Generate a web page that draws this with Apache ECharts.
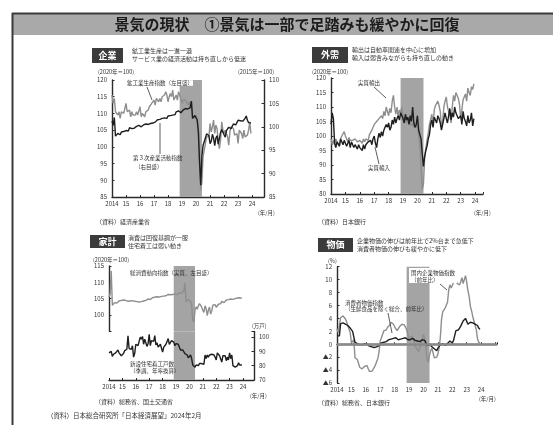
<!DOCTYPE html>
<html>
<head>
<meta charset="utf-8">
<script src="https://cdn.jsdelivr.net/npm/echarts/dist/echarts.min.js"></script>
<style>
  html, body { margin: 0; padding: 0; background: #fff; }
  #chart { width: 553px; height: 425px; filter: blur(0.35px); }
</style>
</head>
<body>
<div id="chart"></div>
<script>
// months Jan 2014 .. Dec 2023 on a year scale
const months = Array.from({length: 120}, (_, i) => 2014 + i / 12);
const recession = [2018.83, 2020.42];

// 企業: 鉱工業生産指数 (2020=100, left) / 第3次産業活動指数 (2015=100, right)
const iip = [
  115.5,113,114.5,110.5,110,109.5,110.5,108.5,110.5,111,110,111.5,
  113,110.5,110.5,111,109,110.5,109.5,109,109.5,110.5,109.5,109.5,
  112,109,110,109.5,109,110.5,110.5,111,112,111.5,113,112.5,
  114,112.5,114.5,115,113.5,114.5,113.5,115,114.5,115.5,116.5,115.5,
  113.5,115,116,115,117,114,114.5,115.5,114,116.5,115.5,115,
  113,114,113.5,114,114.5,112.5,113.5,112,113.5,109,108.5,108.5,
  109.5,109,105,96,87,89.5,97,99,101,103,103.5,103,
  107,104.5,106,108,104,106.5,105.5,101.5,99.5,102,107.5,105,
  104,105,105.5,103,100.5,104.5,106,106.5,105.5,103.5,104,104,
  101,105,104.5,104,102.5,105,103,103.5,103.5,105,107.5,104
];
const tertiary = [
  101.2,100.3,102,98,98.4,98.6,98.5,98.3,98.9,98.7,99,99.3,
  99.2,99.4,99.1,99.8,99.5,99.6,99.9,99.7,99.8,100.1,99.8,100.3,
  100.5,100,100.2,100.4,100.1,100.6,100.4,100.5,100.9,100.7,100.9,100.8,
  101.1,101,101.3,101.5,101.2,101.6,101.4,101.8,101.5,101.9,102.2,101.8,
  102.3,102,102.4,102.8,102.5,102.9,102.6,103.2,102.8,103.4,103.3,103,
  103.4,103.6,103.5,103.9,104,103.8,104.2,104.1,105.5,101.8,102.2,102.4,
  102.1,101.5,98.8,92.5,87.5,93.8,96,96.4,97.6,98.5,98.3,98.1,
  96.4,96.9,98.4,97.6,96,97.6,98.1,96.3,96.5,98.8,99.4,99.1,
  98.3,97.8,99.2,99.6,99.9,99.8,99.6,99.5,100.6,100.2,100.4,100.6,
  101.4,101,101.3,101,101.2,101.5,101.8,102.3,101.4,100.9,101.2,100.8
];

// 外需: 実質輸出 / 実質輸入 (2020=100)
const realExports = [
  99,97,98.5,97,99,98,97.5,96.5,99,100,100.5,101.5,
  100,99.5,98,99.5,98.5,99,98.5,98,99,98.5,98,97.5,
  98.5,99,97.5,99,98,99,99.5,98.5,100.5,100,102,102.5,
  104,103.5,105,104.5,106,106.5,107,106,108.5,107,110,108.5,
  107,109.5,108,112,114,110,107.5,110,106.5,109,108,110,
  105.5,107,106.5,104.5,106,104,105,103.5,104.5,103,102.5,103,
  104.5,104,97,89.5,81.5,83.5,92.5,96,98.5,101,104,104.5,
  107.5,104,109,110.5,110,112,110.5,108.5,103,105,110,112,
  113.5,110,109.5,107,104.5,110,114,112,115,115.5,113,111,
  106,109,112.5,113,114.5,112,116.5,115,114,117,116,118
];
const realImports = [
  104,108,106,97.5,96,98,97.5,96.5,99,98,97,98.5,
  99,96.5,97,98.5,96,98,97.5,96,97,96.5,95.5,97,
  96,96.5,95,97,95.5,97,96.5,98,97.5,98.5,97,99,
  100,97.5,96,99,101,99.5,101.5,100,102,103,104,103,
  104.5,102,103,105.5,104,106.5,104.5,106,107,105.5,108,107,
  106,104.5,107.5,105.5,106.5,104,107,105,110,104.5,103,104,
  107,102,101.5,99,94,89.5,93,95,96.5,99,100.5,104,
  105.5,103,106.5,107,104.5,107,106,104.5,102,104,106,108,
  106,104.5,107,109.5,105.5,108,106.5,110,108,107.5,106,105.5,
  107,104,108.5,106,105,103.5,107,104.5,105.5,108,103.5,106
];

// 家計: 総消費動向指数 (2020=100, left) / 新設住宅着工戸数 (万戸, right)
const consumption = [
  105.5,106.5,113.5,103,103.5,103.8,104,103.7,104.2,104.3,104,104.5,
  104.3,104.6,104.1,104.5,104.8,104.2,104.5,104.3,104.7,104.4,104,104.2,
  103.9,104.1,103.8,104,104.2,104.1,104.4,104.3,104.6,104.5,104.7,104.9,
  105,104.8,105.1,105.3,105.2,105.5,105.4,105.6,105.3,105.5,105.8,105.7,
  105.6,105.8,106,105.9,106.1,106.3,106,106.2,106.4,106.3,106.5,106.4,
  106.5,106.3,106.6,106.8,107,106.7,107.2,107.5,109.8,104,104.5,104.8,
  104.6,104.2,103.2,98.5,97.8,101.5,102.5,101.8,102.8,103.5,102.9,102.4,
  101.5,100.8,102.8,102,99.8,101.5,102.5,100.3,101.2,103,103.5,103.2,
  102.4,101.9,103.3,103.8,103.5,104.2,104,103.8,104.4,104.6,104.4,104.7,
  104.5,104.9,105.1,104.8,105.2,105,105.4,105.2,105.1,105.3,104.9,105.1
];
const housingStarts = [
  89,88,90,86.5,88,87,89,88.5,91,89,88,87,
  87,88.5,90.5,90,91.5,101,92,93,91.5,94,86,88.5,
  95,95.5,94,97,100,98.5,100.5,95,98.5,98,93.5,95.5,
  102,94,97.5,98,97,101,94.5,96,93,92.5,95,94,
  89.5,93,93.5,95,97,99,95,95.5,97.5,98.5,96.5,94,
  95.5,96,95,94,91,92,91,91.5,88.5,89,87.5,85.5,
  84.5,87.5,85,80.5,80,79,80.5,81,80,81.5,81,81.5,
  80.5,81,87.5,85,87.5,86,87.5,86.5,88,89,87.5,86,
  84,89,88.5,87,87.5,82.5,87,87,87,83.5,86,84,
  89,85,87.5,80,80,79,78,80,82,80.5,81,80.5
];

// 物価: 国内企業物価指数 / 消費者物価指数 (前年比, %)
const cgpi = [
  2.4,1.8,1.7,4.1,4.3,4.4,4.3,3.9,3.5,2.9,2.6,1.8,
  0.2,0.5,0.7,-2.1,-2.1,-2.4,-3.0,-3.6,-3.9,-3.8,-3.6,-3.4,
  -3.1,-3.3,-3.8,-4.2,-4.4,-4.2,-3.9,-3.6,-3.2,-2.7,-2.2,-1.2,
  0.5,1.0,1.3,2.1,2.1,2.2,2.6,2.9,3.0,3.4,3.5,3.1,
  2.7,2.6,2.1,2.0,2.7,2.8,3.1,3.0,3.0,2.9,2.3,1.5,
  0.6,0.8,1.3,1.2,0.6,-0.1,-0.6,-0.9,-1.1,-0.4,0.1,0.9,
  1.5,0.9,-0.5,-2.4,-2.8,-1.7,-1.0,-0.6,-0.8,-2.1,-2.2,-2.0,
  -1.5,-0.6,1.0,3.8,5.0,5.2,5.6,5.9,6.5,8.4,9.2,8.7,
  9.1,9.6,9.7,10.0,9.4,9.6,9.2,9.7,10.3,9.4,9.3,10.6,
  9.6,8.3,7.4,5.9,5.2,4.3,3.6,3.3,2.2,0.8,0.3,0.2
];
const coreCpi = [
  1.3,1.3,1.3,3.2,3.4,3.3,3.3,3.1,3.0,2.9,2.7,2.5,
  2.2,2.0,2.2,0.3,0.1,0.1,0.0,-0.1,-0.1,-0.1,0.1,0.1,
  0.0,0.0,-0.3,-0.3,-0.4,-0.4,-0.5,-0.5,-0.5,-0.4,-0.4,-0.2,
  0.1,0.2,0.2,0.3,0.4,0.4,0.5,0.7,0.7,0.8,0.9,0.9,
  0.9,1.0,0.9,0.7,0.7,0.8,0.8,0.9,1.0,1.0,0.9,0.7,
  0.8,0.7,0.8,0.9,0.8,0.6,0.6,0.5,0.3,0.4,0.5,0.7,
  0.8,0.6,0.4,-0.2,-0.2,0.0,0.0,-0.4,-0.3,-0.7,-0.9,-1.0,
  -0.6,-0.4,-0.1,-0.1,0.1,0.2,-0.2,0.0,0.1,0.1,0.5,0.5,
  0.2,0.6,0.8,2.1,2.1,2.2,2.4,2.8,3.0,3.6,3.7,4.0,
  4.2,3.1,3.1,3.4,3.2,3.3,3.1,3.1,2.8,2.9,2.5,2.3
];

const FONT = '"Noto Sans CJK JP", "Noto Sans CJK SC", sans-serif';
const DARK = '#1e1e1e';
const GRAY = '#8e8e8e';
const BAND = '#a4a4a4';
const AXIS = '#2a2a2a';

const toXY = arr => arr.map((v, i) => [months[i], v]);
const yearLabel = v => v === 2014 ? '2014' : (Number.isInteger(v) && v <= 2024 ? String(v - 2000) : '');

function xAxis(gridIndex, max, show = true) {
  return {
    type: 'value', gridIndex, min: 2014, max, interval: 1, show,
    axisLine: { lineStyle: { color: AXIS, width: 1.4 } },
    axisTick: { inside: true, length: 2, lineStyle: { color: AXIS } },
    axisLabel: { formatter: yearLabel, fontSize: 6, color: '#333', margin: 4, fontFamily: FONT },
    splitLine: { show: false }
  };
}
function yAxis(gridIndex, min, max, interval, position, fmt) {
  return {
    type: 'value', gridIndex, min, max, interval, position,
    axisLine: { show: true, lineStyle: { color: AXIS, width: 1.4 } },
    axisTick: { show: true, inside: true, length: 2.5, lineStyle: { color: AXIS } },
    axisLabel: { fontSize: 6, color: '#333', margin: 5, fontFamily: FONT, formatter: fmt },
    splitLine: { show: false }
  };
}
function band(xi, yi, extra) {
  return Object.assign({
    type: 'line', xAxisIndex: xi, yAxisIndex: yi, data: [], z: 1, silent: true,
    markArea: { silent: true, itemStyle: { color: BAND }, data: [[{ xAxis: recession[0] }, { xAxis: recession[1] }]] }
  }, extra || {});
}
function line(xi, yi, data, color, width) {
  return {
    type: 'line', xAxisIndex: xi, yAxisIndex: yi, data: toXY(data), showSymbol: false, z: 3,
    lineStyle: { color, width: width || 1.4 }, itemStyle: { color }
  };
}

function txt(x, y, text, size, o) {
  o = o || {};
  return {
    type: 'text', x, y, z: 100,
    style: Object.assign({
      text, fill: o.fill || '#333', font: (o.weight || 'normal') + ' ' + size + 'px ' + FONT,
      textAlign: o.align || 'left', textVerticalAlign: 'middle'
    }, o.bg ? { backgroundColor: o.bg } : {})
  };
}
function seg(x1, y1, x2, y2) {
  return { type: 'line', z: 100, shape: { x1, y1, x2, y2 }, style: { stroke: '#333', lineWidth: 0.8 } };
}
function box(x, y, w, h, text) {
  return [
    { type: 'rect', z: 100, shape: { x, y, width: w, height: h }, style: { fill: '#3b3b3b' } },
    txt(x + w / 2, y + h / 2, text, 9, { fill: '#fff', weight: 'bold', align: 'center' })
  ];
}

const graphics = [
  { type: 'rect', z: 90, shape: { x: 13, y: 14, width: 540, height: 21 }, style: { fill: '#a9a9a9' } },
  { type: 'line', z: 91, shape: { x1: 12, y1: 13.5, x2: 553, y2: 13.5 }, style: { stroke: '#3a3a3a', lineWidth: 2 } },
  { type: 'line', z: 91, shape: { x1: 12.5, y1: 13, x2: 12.5, y2: 425 }, style: { stroke: '#3a3a3a', lineWidth: 2 } },
  txt(287, 24.5, '景気の現状　①景気は一部で足踏みも緩やかに回復', 15, { fill: '#1c1c1c', weight: 'bold', align: 'center' }),

  ...box(92, 48, 31, 15, '企業'),
  txt(132, 51, '鉱工業生産は一進一退', 6),
  txt(132, 58.5, 'サービス業の経済活動は持ち直しから低迷', 6),
  txt(98, 72, '(2020年＝100)', 5.5),
  txt(238, 72, '(2015年＝100)', 5.5),
  txt(127, 83, '鉱工業生産指数（左目盛）', 5.5, { bg: '#fff' }),
  seg(147, 87, 152, 100),
  txt(133, 158, '第３次産業活動指数', 5.5),
  txt(135, 166.5, '（右目盛）', 5.5),
  seg(160, 154, 160, 123),
  txt(258, 213, '(年/月)', 5.5),
  txt(96, 222, '（資料）経済産業省', 6),

  ...box(312, 47, 36, 16, '外需'),
  txt(352, 50, '輸出は自動車関連を中心に増加', 6),
  txt(352, 57.5, '輸入は弱含みながらも持ち直しの動き', 6),
  txt(312, 72, '(2020年＝100)', 5.5),
  txt(358, 83, '実質輸出', 5.5),
  seg(374, 87, 386, 98),
  txt(368, 168, '実質輸入', 5.5),
  seg(379, 164, 375, 147),
  txt(474, 213, '(年/月)', 5.5),
  txt(318, 222, '（資料）日本銀行', 6),

  ...box(90, 235, 35, 13, '家計'),
  txt(128, 238, '消費は回復基調が一服', 6),
  txt(128, 245.5, '住宅着工は弱い動き', 6),
  txt(93, 260, '(2020年＝100)', 5.5),
  txt(130, 273, '総消費動向指数（実質、左目盛）', 5.5),
  txt(252, 326, '(万戸)', 5.5),
  txt(130, 364, '新設住宅着工戸数', 5.5),
  txt(130, 371, '（季調、年率換算）', 5.5),
  txt(250, 396, '(年/月)', 5.5),
  txt(95, 402, '（資料）総務省、国土交通省', 6),

  ...box(318, 238, 35, 14, '物価'),
  txt(357, 241, '企業物価の伸びは前年比で2%台まで急低下', 6),
  txt(357, 248.5, '消費者物価の伸びも緩やかに低下', 6),
  txt(328, 261, '(%)', 5.5),
  { type: 'rect', z: 99, shape: { x: 409, y: 268, width: 48, height: 15 }, style: { fill: '#fff' } },
  txt(411, 272.5, '国内企業物価指数', 5.5),
  txt(411, 279.5, '（前年比）', 5.5),
  seg(440, 284, 447, 290),
  txt(345, 302.5, '消費者物価指数', 5.5),
  txt(345, 309, '（生鮮食品を除く総合、前年比）', 5.5),
  seg(388, 313, 392, 333),
  txt(479, 399, '(年/月)', 5.5),
  txt(318, 403, '（資料）総務省、日本銀行', 6),

  txt(47, 416, '（資料）日本総合研究所「日本経済展望」2024年2月', 6.5)
];

const chart = echarts.init(document.getElementById('chart'));
chart.setOption({
  animation: false,
  backgroundColor: '#fff',
  grid: [
    { left: 112, top: 80, width: 152, height: 117 },
    { left: 331, top: 78, width: 152, height: 116 },
    { left: 109, top: 266, width: 145, height: 65.4 },
    { left: 109, top: 331.4, width: 145, height: 48.6 },
    { left: 337, top: 266.7, width: 160, height: 116.3 }
  ],
  xAxis: [
    xAxis(0, 2024.85),
    xAxis(1, 2024.55),
    xAxis(2, 2024.82, false),
    xAxis(3, 2024.82),
    xAxis(4, 2025.1)
  ],
  yAxis: [
    yAxis(0, 85, 120, 5, 'left'),
    yAxis(0, 85, 110, 5, 'right'),
    yAxis(1, 80, 120, 5, 'left'),
    yAxis(2, 95, 115, 5, 'left', v => v === 95 ? '' : String(v)),
    yAxis(3, 70, 104, 10, 'right', v => v % 10 === 0 ? String(v) : ''),
    yAxis(4, -6, 12, 2, 'left', v => v < 0 ? '▲' + Math.abs(v) : String(v))
  ],
  series: [
    band(0, 0),
    line(0, 0, iip, GRAY),
    line(0, 1, tertiary, DARK),
    band(1, 2),
    line(1, 2, realExports, GRAY),
    line(1, 2, realImports, DARK),
    band(2, 3),
    line(2, 3, consumption, GRAY),
    band(3, 4),
    line(3, 4, housingStarts, DARK),
    band(4, 5, {
      markLine: { silent: true, symbol: 'none', label: { show: false },
        lineStyle: { color: '#8a8a8a', width: 2.5, type: 'solid' }, data: [{ yAxis: 0 }] }
    }),
    line(4, 5, cgpi, GRAY),
    line(4, 5, coreCpi, DARK)
  ],
  graphic: graphics
});
</script>
</body>
</html>
